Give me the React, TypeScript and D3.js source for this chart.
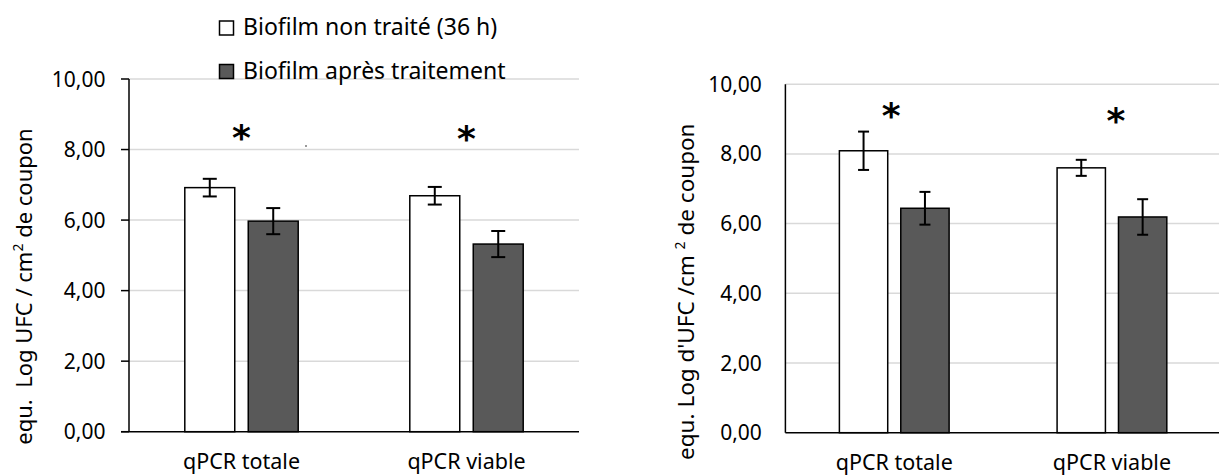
import React from "react";
import * as d3 from "d3";

const categories = ["qPCR totale", "qPCR viable"];
const seriesNames = ["Biofilm non traité (36 h)", "Biofilm après traitement"];
const yTicks = [0, 2, 4, 6, 8, 10];

const leftUntreated = [6.92, 6.69];
const leftUntreatedErr = [0.25, 0.25];
const leftTreated = [5.97, 5.32];
const leftTreatedErr = [0.37, 0.37];
const leftStars = [8.5, 8.48];

const rightUntreated = [8.09, 7.6];
const rightUntreatedErr = [0.55, 0.23];
const rightTreated = [6.44, 6.19];
const rightTreatedErr = [0.47, 0.51];
const rightStars = [9.26, 9.12];

const FONT = "'Noto Sans', 'Open Sans', sans-serif";
const DARK = "#595959";
const GRID = "#d9d9d9";
const fmt = (v: number) => v.toFixed(2).replace(".", ",");

type PanelProps = {
  x0: number; x1: number; yTop: number; yBottom: number;
  untreated: number[]; untreatedErr: number[];
  treated: number[]; treatedErr: number[];
  stars: number[]; starDx: number[];
  ticks: boolean; capW: number; gridEnd: number;
  labelY: number;
};

function Panel(p: PanelProps) {
  const x = d3.scaleBand<string>().domain(categories).range([p.x0, p.x1]).padding(0);
  const y = d3.scaleLinear().domain([0, 10]).range([p.yBottom, p.yTop]);
  const bw = x.bandwidth() * 0.222;
  const gap = x.bandwidth() * 0.06;
  const series = [
    { vals: p.untreated, errs: p.untreatedErr, fill: "#ffffff", off: -gap / 2 - bw },
    { vals: p.treated, errs: p.treatedErr, fill: DARK, off: gap / 2 },
  ];
  return (
    <g>
      {yTicks.filter((t) => t > 0).map((t) => (
        <line key={"g" + t} x1={p.x0} x2={p.gridEnd} y1={y(t)} y2={y(t)} stroke={GRID} strokeWidth={1.5} />
      ))}
      {yTicks.map((t) => (
        <text key={"t" + t} x={p.x0 - 23.5} y={y(t)} dy="0.36em" textAnchor="end" fontFamily={FONT} fontSize={21} fill="#000">
          {fmt(t)}
        </text>
      ))}
      {p.ticks && yTicks.map((t) => (
        <line key={"k" + t} x1={p.x0 - 8} x2={p.x0} y1={y(t)} y2={y(t)} stroke="#000" strokeWidth={1.5} />
      ))}
      {series.map((s, si) =>
        categories.map((c, i) => {
          const cx = (x(c) as number) + x.bandwidth() / 2;
          const bx = cx + s.off;
          return (
            <g key={si + "-" + i}>
              <rect x={bx} y={y(s.vals[i])} width={bw} height={y(0) - y(s.vals[i])} fill={s.fill} stroke="#000" strokeWidth={1.5} />
              <line x1={bx + bw / 2} x2={bx + bw / 2} y1={y(s.vals[i] + s.errs[i])} y2={y(s.vals[i] - s.errs[i])} stroke="#000" strokeWidth={2} />
              <line x1={bx + bw / 2 - p.capW / 2} x2={bx + bw / 2 + p.capW / 2} y1={y(s.vals[i] + s.errs[i])} y2={y(s.vals[i] + s.errs[i])} stroke="#000" strokeWidth={2} />
              <line x1={bx + bw / 2 - p.capW / 2} x2={bx + bw / 2 + p.capW / 2} y1={y(s.vals[i] - s.errs[i])} y2={y(s.vals[i] - s.errs[i])} stroke="#000" strokeWidth={2} />
            </g>
          );
        })
      )}
      <line x1={p.x0} x2={p.x0} y1={y(10)} y2={y(0)} stroke="#000" strokeWidth={1.5} />
      <line x1={p.ticks ? p.x0 - 8 : p.x0} x2={p.gridEnd} y1={y(0)} y2={y(0)} stroke="#000" strokeWidth={1.5} />
      {categories.map((c) => (
        <text key={"c" + c} x={(x(c) as number) + x.bandwidth() / 2} y={p.labelY} textAnchor="middle" fontFamily={FONT} fontSize={21.5} fill="#000">
          {c}
        </text>
      ))}
      {categories.map((c, i) => (
        <text key={"s" + c} x={(x(c) as number) + x.bandwidth() / 2 + p.starDx[i]} y={y(p.stars[i]) + 18} textAnchor="middle" fontFamily="'DejaVu Sans', sans-serif" fontWeight="bold" fontSize={36} fill="#000">
          *
        </text>
      ))}
    </g>
  );
}

export default function App() {
  return (
    <svg width={1219} height={475} style={{ position: "absolute", left: 0, top: 0, background: "#fff" }}>
      <rect x={0} y={0} width={1219} height={475} fill="#fff" />
      <Panel x0={129} x1={579} yTop={79} yBottom={431.7}
        untreated={leftUntreated} untreatedErr={leftUntreatedErr}
        treated={leftTreated} treatedErr={leftTreatedErr}
        stars={leftStars} starDx={[0, 0]} ticks={true} capW={14} gridEnd={579} labelY={469} />
      <Panel x0={785.4} x1={1220.8} yTop={84.2} yBottom={432.7}
        untreated={rightUntreated} untreatedErr={rightUntreatedErr}
        treated={rightTreated} treatedErr={rightTreatedErr}
        stars={rightStars} starDx={[-3, 4]} ticks={false} capW={11} gridEnd={1219} labelY={469.5} />
      <circle cx={306} cy={146} r={1} fill="#777" />
      {/* legend */}
      <rect x={219.5} y={21} width={14} height={14} fill="#fff" stroke="#000" strokeWidth={1.5} />
      <text x={243} y={35} fontFamily={FONT} fontSize={23} fill="#000">{seriesNames[0]}</text>
      <rect x={219.5} y={64.5} width={14} height={14} fill={DARK} stroke="#000" strokeWidth={1.5} />
      <text x={243} y={78.5} fontFamily={FONT} fontSize={23} fill="#000">{seriesNames[1]}</text>
      {/* y titles */}
      <text transform="translate(32,286.5) rotate(-90)" textAnchor="middle" fontFamily={FONT} fontSize={22} fill="#000" xmlSpace="preserve">
        {"equ.  Log UFC / cm"}<tspan baselineShift="super" fontSize={14}>2</tspan>{" de coupon"}
      </text>
      <text transform="translate(694,291.7) rotate(-90)" textAnchor="middle" fontFamily={FONT} fontSize={22.5} fill="#000" xmlSpace="preserve">
        {"equ. Log d'UFC /cm "}<tspan baselineShift="super" fontSize={14}>2</tspan>{" de coupon"}
      </text>
    </svg>
  );
}
